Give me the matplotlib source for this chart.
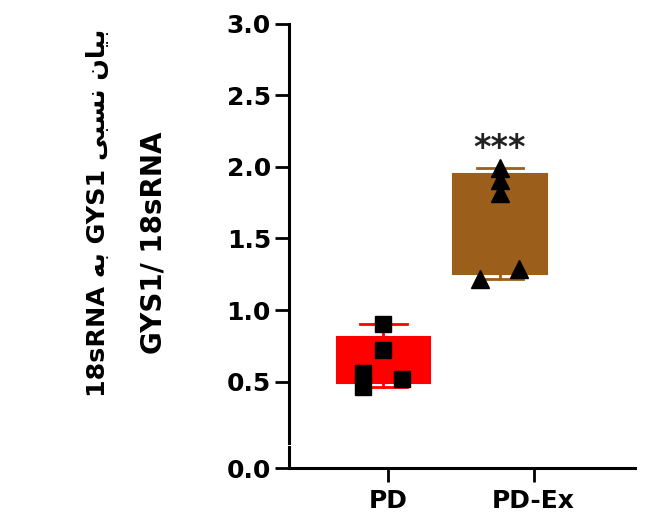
import matplotlib.pyplot as plt
import numpy as np

# data
groups = ['PD', 'PD-Ex']
pd_vals = [0.46, 0.52, 0.56, 0.72, 0.90]
pdex_vals = [1.22, 1.29, 1.82, 1.91, 1.99]
pd_jitter = [-0.18, 0.16, -0.18, 0.0, 0.0]
pdex_jitter = [-0.17, 0.16, 0.0, 0.0, 0.0]
colors = ['#ff0000', '#9b5e1b']
markers = ['s', '^']
signif = '***'

# ylabel: Persian part written in presentation forms, visual order
ylab1 = '18sRNA \ufeea\ufe91 GYS1 \ufbfd\ufe92\ufeb4\ufee7 \ufee5\ufe8e\ufbff\ufe91'
ylab2 = 'GYS1/ 18sRNA'

W, H = 653, 529
fig = plt.figure(figsize=(W / 100, H / 100), dpi=100)

left = 289 / W
width = (635 - 289) / W
ax = fig.add_axes([left, 1 - 443 / H, width, 419 / H])
axb = fig.add_axes([left, 1 - 468 / H, width, 21 / H])

def stats(vals, pos):
    q1, med, q3 = np.percentile(vals, [25, 50, 75], method='weibull')
    return dict(med=med, q1=q1, q3=q3, whislo=min(vals), whishi=max(vals),
                fliers=[], label=pos)

data = [pd_vals, pdex_vals]
jit = [pd_jitter, pdex_jitter]
positions = [1, 2]
for i in range(2):
    c = colors[i]
    ax.bxp([stats(data[i], groups[i])], positions=[positions[i]], widths=0.8,
           patch_artist=True, showfliers=False,
           boxprops=dict(facecolor=c, edgecolor=c, linewidth=1.5),
           medianprops=dict(color=c, linewidth=1.5),
           whiskerprops=dict(color=c, linewidth=2),
           capprops=dict(color=c, linewidth=2), capwidths=0.4,
           manage_ticks=False)
    xs = positions[i] + np.array(jit[i])
    ax.plot(xs, data[i], linestyle='none', marker=markers[i], color='black',
            markersize=12 if i == 0 else 13, zorder=5, clip_on=False)

ax.text(2, 2.13, signif, ha='center', va='center', fontsize=24,
        fontweight='bold', color='#222222')

xl = (0.189, 3.159)
ax.set_xlim(*xl)
ax.set_ylim(3 - 419 / 143, 3.0)
ax.set_yticks([0.5, 1.0, 1.5, 2.0, 2.5, 3.0])
ax.set_yticklabels(['0.5', '1.0', '1.5', '2.0', '2.5', '3.0'])
ax.set_xticks([])
for s in ['top', 'right', 'bottom']:
    ax.spines[s].set_visible(False)

axb.set_xlim(*xl)
axb.set_ylim(0, 21 / 143)
axb.set_yticks([0.0])
axb.set_yticklabels(['0.0'])
axb.set_xticks([1.039, 2.288])
axb.set_xticklabels(groups)
for s in ['top', 'right']:
    axb.spines[s].set_visible(False)

for a in (ax, axb):
    for s in ['left', 'bottom']:
        a.spines[s].set_linewidth(2.2)
    a.tick_params(width=2, length=10, labelsize=18, pad=3)
    for lab in a.get_yticklabels() + a.get_xticklabels():
        lab.set_fontweight('bold')
        lab.set_family('DejaVu Sans')
    a.patch.set_alpha(0)
axb.tick_params(axis='x', pad=5)

fig.text(105 / W, 1 - 213 / H, ylab1, rotation=90, ha='center', va='baseline',
         rotation_mode='anchor', fontsize=18.3, fontweight='bold',
         family=['DejaVu Sans'])
fig.text(162 / W, 1 - 243 / H, ylab2, rotation=90, ha='center', va='baseline',
         rotation_mode='anchor', fontsize=20, fontweight='bold',
         family=['DejaVu Sans'])

fig.savefig('out.png', dpi=100)
